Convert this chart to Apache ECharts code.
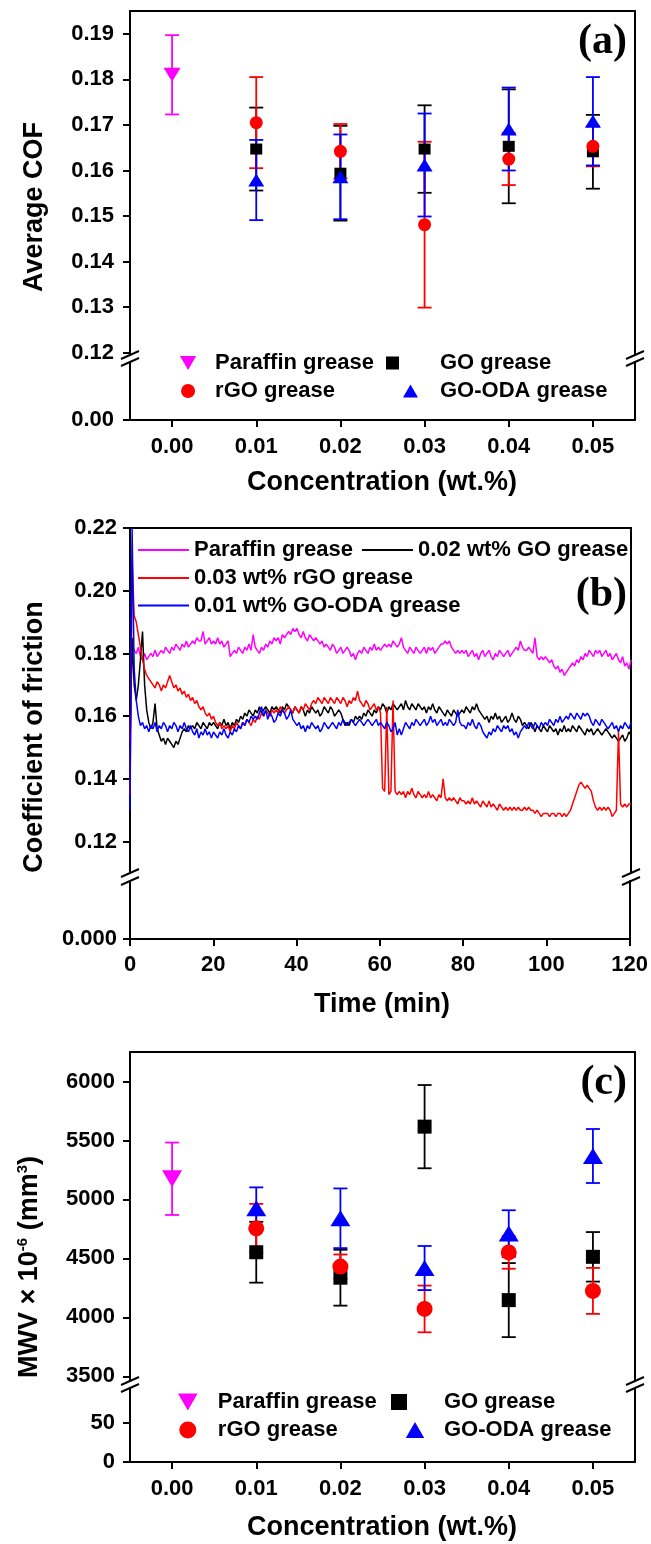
<!DOCTYPE html>
<html><head><meta charset="utf-8">
<script src="https://cdn.jsdelivr.net/npm/echarts@6/dist/echarts.min.js"></script>
<style>html,body{margin:0;padding:0;background:#fff}#chart{width:651px;height:1544px}</style>
</head><body><div id="chart"></div>
<script>
// ---------------- DATA ----------------
// Panel (a): average COF vs concentration
const concParaffin = [0.00];
const concGrease = [0.01, 0.02, 0.03, 0.04, 0.05];
const cofParaffin = [0.1810];
const cofParaffinErr = [0.0087];
const cofGO = [0.1647, 0.1594, 0.1647, 0.1653, 0.1641];
const cofGOErr = [0.0091, 0.0104, 0.0096, 0.0125, 0.0081];
const cofRGO = [0.1705, 0.1642, 0.1481, 0.1625, 0.1653];
const cofRGOErr = [0.0100, 0.0060, 0.0182, 0.0057, 0.0044];
const cofODA = [0.1579, 0.1586, 0.1612, 0.1691, 0.1708];
const cofODAErr = [0.0088, 0.0093, 0.0113, 0.0091, 0.0097];

// Panel (c): MWV x 10^-6 (mm^3) vs concentration
const mwvParaffin = [5175];
const mwvParaffinErr = [307];
const mwvGO = [4552, 4336, 5617, 4146, 4513];
const mwvGOErr = [258, 237, 353, 314, 210];
const mwvRGO = [4755, 4430, 4071, 4550, 4224];
const mwvRGOErr = [207, 103, 198, 138, 195];
const mwvODA = [4925, 4840, 4418, 4710, 5368];
const mwvODAErr = [177, 253, 187, 198, 229];

// Panel (b): coefficient of friction vs time, sampled every 0.5 min (0 ... 120)
const timeStep = 0.5;
const frictionParaffin = [
 .152,.183,.181,.180,.182,.179,.178,.180,.178,.179, // 0-4.5
 .180,.179,.181,.179,.180,.181,.180,.182,.181,.180, // 5
 .182,.181,.183,.182,.181,.183,.182,.184,.182,.183, // 10
 .184,.183,.185,.184,.184,.187,.183,.184,.185,.183, // 15
 .184,.183,.185,.183,.184,.182,.183,.184,.179,.180, // 20
 .181,.180,.182,.181,.180,.182,.181,.183,.181,.186, // 25
 .182,.181,.180,.182,.181,.183,.182,.184,.183,.185, // 30
 .184,.185,.183,.186,.185,.186,.187,.186,.188,.187, // 35
 .188,.186,.185,.187,.185,.184,.186,.185,.184,.185, // 40
 .184,.183,.184,.182,.183,.182,.181,.183,.182,.180, // 45
 .181,.182,.180,.181,.182,.181,.179,.180,.178,.180, // 50
 .181,.180,.182,.181,.180,.182,.181,.183,.181,.182, // 55
 .181,.182,.183,.182,.183,.182,.184,.183,.182,.183, // 60
 .185,.182,.181,.180,.182,.181,.180,.182,.181,.180, // 65
 .181,.182,.180,.182,.181,.182,.180,.181,.182,.183, // 70
 .183,.184,.183,.184,.182,.181,.180,.181,.180,.181, // 75
 .180,.181,.179,.180,.181,.179,.180,.178,.180,.181, // 80
 .179,.180,.181,.179,.178,.180,.179,.181,.180,.179, // 85
 .180,.181,.179,.180,.181,.182,.181,.184,.182,.181, // 90
 .181,.182,.181,.180,.185,.179,.178,.179,.178,.179, // 95
 .178,.177,.178,.176,.175,.176,.174,.175,.173,.174, // 100
 .175,.176,.177,.176,.178,.177,.179,.178,.180,.179, // 105
 .181,.180,.179,.181,.180,.181,.179,.180,.181,.179, // 110
 .180,.178,.179,.180,.178,.177,.179,.176,.177,.175, // 115
 .178];
const frictionGO = [
 .150,.185,.170,.165,.170,.178,.187,.170,.162,.158,
 .156,.158,.164,.156,.154,.152,.153,.151,.153,.152,
 .151,.150,.152,.151,.153,.155,.156,.155,.157,.156,
 .157,.156,.158,.157,.156,.158,.157,.156,.158,.157,
 .158,.157,.156,.158,.157,.159,.157,.158,.156,.158,
 .157,.159,.158,.160,.159,.161,.160,.162,.161,.160,
 .162,.161,.163,.161,.162,.163,.162,.161,.163,.162,
 .163,.162,.161,.163,.162,.164,.163,.162,.161,.163,
 .162,.161,.163,.162,.160,.162,.161,.163,.162,.161,
 .162,.160,.161,.163,.162,.161,.163,.162,.160,.161,
 .162,.161,.159,.157,.158,.157,.159,.158,.160,.159,
 .160,.159,.161,.160,.162,.161,.160,.162,.161,.163,
 .162,.164,.163,.161,.163,.162,.164,.163,.162,.163,
 .164,.162,.165,.163,.162,.164,.163,.162,.164,.163,
 .162,.163,.161,.163,.162,.164,.162,.161,.163,.162,
 .161,.160,.162,.161,.160,.162,.161,.160,.161,.162,
 .161,.163,.162,.161,.163,.162,.164,.162,.161,.160,
 .159,.160,.158,.160,.159,.161,.159,.160,.158,.159,
 .160,.158,.159,.161,.159,.158,.160,.159,.157,.158,
 .157,.156,.158,.157,.155,.157,.156,.155,.157,.156,
 .155,.157,.156,.155,.156,.154,.156,.155,.157,.155,
 .156,.155,.157,.156,.155,.157,.156,.155,.154,.156,
 .155,.156,.154,.155,.156,.155,.154,.155,.156,.155,
 .154,.153,.154,.153,.152,.153,.154,.152,.153,.155,
 .154];
const frictionRGO = [
 .135,.210,.192,.190,.186,.182,.178,.175,.173,.172,
 .171,.170,.169,.171,.170,.168,.170,.169,.171,.173,
 .171,.169,.170,.168,.169,.167,.168,.166,.167,.165,
 .166,.164,.165,.163,.162,.163,.161,.160,.161,.159,
 .160,.158,.157,.158,.156,.157,.156,.157,.155,.157,
 .156,.158,.157,.156,.158,.157,.159,.158,.157,.159,
 .158,.160,.159,.161,.160,.162,.161,.160,.162,.161,
 .162,.161,.163,.162,.161,.162,.163,.162,.161,.163,
 .162,.161,.163,.162,.164,.163,.162,.164,.165,.164,
 .166,.165,.164,.166,.165,.164,.166,.165,.164,.166,
 .165,.164,.166,.165,.163,.165,.164,.166,.165,.168,
 .165,.164,.163,.165,.164,.162,.163,.164,.162,.163,
 .161,.137,.136,.163,.135,.136,.165,.136,.135,.136,
 .135,.136,.134,.136,.135,.137,.135,.134,.136,.135,
 .134,.135,.134,.136,.134,.135,.134,.133,.135,.134,
 .140,.134,.133,.134,.133,.134,.133,.132,.134,.133,
 .133,.132,.133,.132,.134,.132,.133,.132,.131,.133,
 .132,.131,.133,.131,.132,.131,.130,.132,.131,.130,
 .131,.130,.131,.130,.131,.130,.131,.130,.130,.131,
 .130,.131,.130,.130,.129,.130,.129,.128,.129,.129,
 .129,.128,.129,.129,.128,.129,.129,.128,.129,.128,
 .129,.130,.132,.134,.136,.138,.139,.138,.137,.138,
 .137,.136,.133,.131,.130,.131,.130,.131,.130,.131,
 .130,.128,.129,.130,.155,.132,.131,.132,.131,.132,
 .132];
const frictionODA = [
 .130,.220,.175,.165,.160,.157,.158,.156,.157,.155,
 .157,.156,.158,.155,.157,.156,.158,.157,.155,.157,
 .156,.158,.157,.155,.157,.156,.158,.156,.155,.157,
 .155,.154,.156,.153,.155,.154,.156,.154,.155,.153,
 .155,.154,.153,.155,.154,.156,.154,.153,.155,.154,
 .156,.155,.157,.156,.158,.157,.159,.158,.160,.159,
 .160,.159,.161,.163,.160,.162,.159,.161,.160,.158,
 .159,.161,.160,.162,.161,.159,.160,.162,.159,.158,
 .157,.158,.156,.157,.155,.157,.156,.158,.157,.156,
 .157,.155,.156,.158,.157,.156,.157,.158,.157,.156,
 .158,.157,.159,.158,.157,.158,.159,.158,.157,.158,
 .159,.158,.157,.158,.159,.158,.157,.158,.159,.157,
 .158,.157,.156,.158,.157,.155,.156,.158,.154,.156,
 .154,.156,.158,.157,.156,.158,.157,.159,.158,.157,
 .158,.159,.157,.158,.160,.158,.159,.157,.158,.159,
 .157,.158,.157,.159,.158,.157,.158,.162,.158,.157,
 .157,.156,.158,.157,.159,.157,.156,.158,.157,.155,
 .154,.153,.155,.154,.156,.155,.157,.156,.155,.157,
 .156,.157,.155,.156,.154,.155,.153,.155,.156,.157,
 .156,.158,.157,.156,.158,.157,.156,.158,.157,.158,
 .157,.159,.158,.157,.159,.158,.160,.158,.159,.160,
 .159,.161,.160,.159,.161,.160,.159,.161,.160,.161,
 .160,.158,.157,.159,.158,.157,.159,.158,.157,.156,
 .157,.158,.156,.157,.155,.157,.156,.158,.157,.156,
 .158];

// Tick labels
const concTicks = [0, 0.01, 0.02, 0.03, 0.04, 0.05];
const cofTicks = [0.12, 0.13, 0.14, 0.15, 0.16, 0.17, 0.18, 0.19];
const cofLowTicks = [0];
const timeTicks = [0, 20, 40, 60, 80, 100, 120];
const frictionTicks = [0.12, 0.14, 0.16, 0.18, 0.20, 0.22];
const frictionLowTicks = [0];
const mwvTicks = [3500, 4000, 4500, 5000, 5500, 6000];
const mwvLowTicks = [0, 50];

// ---------------- LAYOUT / STYLE ----------------
const FONT = 'Liberation Sans, Arial, sans-serif';
const C_MAG = '#FF00FF', C_BLK = '#000000', C_RED = '#FF0000', C_BLU = '#0000FF';
const DOWN_TRI = 'path://M0,0L10,0L5,8.66Z';
const UP_TRI = 'path://M5,0L10,8.66L0,8.66Z';
const AX = {color: '#000', width: 2};
const labelFont = {fontFamily: FONT, fontWeight: 'bold', fontSize: 22, color: '#000'};

// grids: [left, top, width, height]
const G = [
  [130, 11, 505, 344],   // a upper
  [130, 362, 505, 58],   // a lower
  [130, 528, 501, 345],  // b upper
  [130, 881, 501, 58],   // b lower
  [130, 1052, 505, 329], // c upper
  [130, 1388, 505, 74]   // c lower
];

function hiddenX(gi, min, max) {
  return {type: 'value', gridIndex: gi, min, max, show: false};
}
function frameX(gi, min, max) {
  return {type: 'value', gridIndex: gi, min, max, position: 'top',
    axisLine: {show: true, onZero: false, lineStyle: AX}, axisTick: {show: false},
    axisLabel: {show: false}, splitLine: {show: false}};
}
function mainX(gi, min, max, ticks, fmt, margin) {
  return {type: 'value', gridIndex: gi, min, max, position: 'bottom',
    axisLine: {show: true, onZero: false, lineStyle: AX},
    axisTick: {show: true, length: 7, lineStyle: AX, customValues: ticks},
    axisLabel: Object.assign({margin, customValues: ticks, formatter: fmt}, labelFont),
    splitLine: {show: false}};
}
function mainY(gi, min, max, ticks, fmt, margin) {
  return {type: 'value', gridIndex: gi, min, max, position: 'left',
    axisLine: {show: true, onZero: false, lineStyle: AX},
    axisTick: {show: true, length: 7, lineStyle: AX, customValues: ticks},
    axisLabel: Object.assign({margin, customValues: ticks, formatter: fmt}, labelFont),
    splitLine: {show: false}};
}
function frameY(gi, min, max) {
  return {type: 'value', gridIndex: gi, min, max, position: 'right',
    axisLine: {show: true, onZero: false, lineStyle: AX}, axisTick: {show: false},
    axisLabel: {show: false}, splitLine: {show: false}};
}

const f2 = v => Number(v).toFixed(2);
const f3 = v => Number(v).toFixed(3);
const f0 = v => String(Math.round(v));

const xAxes = [
  hiddenX(0, -0.005, 0.055), frameX(0, -0.005, 0.055), mainX(1, -0.005, 0.055, concTicks, f2, 16),
  hiddenX(2, 0, 120), frameX(2, 0, 120), mainX(3, 0, 120, timeTicks, f0, 15),
  hiddenX(4, -0.005, 0.055), frameX(4, -0.005, 0.055), mainX(5, -0.005, 0.055, concTicks, f2, 16)
];
const yAxes = [
  mainY(0, 0.1195, 0.195, cofTicks, f2, 16), frameY(0, 0.1195, 0.195),
  mainY(1, 0, 0.012, cofLowTicks, f2, 16), frameY(1, 0, 0.012),
  mainY(2, 0.11, 0.22, frictionTicks, f2, 13), frameY(2, 0.11, 0.22),
  mainY(3, 0, 0.018, frictionLowTicks, f3, 13), frameY(3, 0, 0.018),
  mainY(4, 3460, 6250, mwvTicks, f0, 15), frameY(4, 3460, 6250),
  mainY(5, 0, 95, mwvLowTicks, f0, 15), frameY(5, 0, 95)
];

function errSeries(name, xs, means, errs, color, xi, yi) {
  return {
    type: 'custom', name, xAxisIndex: xi, yAxisIndex: yi, z: 2, silent: true,
    data: xs.map((x, i) => [x, means[i] - errs[i], means[i] + errs[i]]),
    encode: {x: 0, y: [1, 2]},
    renderItem: function (params, api) {
      const x = api.value(0), lo = api.value(1), hi = api.value(2);
      const t = api.coord([x, hi]), b = api.coord([x, lo]);
      const st = {stroke: color, lineWidth: 1.8};
      const h = 7;
      return {type: 'group', children: [
        {type: 'line', shape: {x1: t[0], y1: t[1], x2: b[0], y2: b[1]}, style: st},
        {type: 'line', shape: {x1: t[0] - h, y1: t[1], x2: t[0] + h, y2: t[1]}, style: st},
        {type: 'line', shape: {x1: b[0] - h, y1: b[1], x2: b[0] + h, y2: b[1]}, style: st}
      ]};
    }
  };
}
function dotSeries(name, xs, means, symbol, size, color, xi, yi) {
  return {
    type: 'scatter', name, xAxisIndex: xi, yAxisIndex: yi, z: 3,
    symbol, symbolSize: size, itemStyle: {color, opacity: 1},
    data: xs.map((x, i) => [x, means[i]])
  };
}
function lineSeries(name, vals, color) {
  return {
    type: 'line', name, xAxisIndex: 3, yAxisIndex: 4, showSymbol: false, symbol: 'none',
    lineStyle: {color, width: 1.5}, itemStyle: {color}, clip: true, animation: false,
    data: vals.map((v, i) => [i * timeStep, v])
  };
}

const series = [
  // (a)
  errSeries('a-err-paraffin', concParaffin, cofParaffin, cofParaffinErr, C_MAG, 0, 0),
  errSeries('a-err-go', concGrease, cofGO, cofGOErr, C_BLK, 0, 0),
  errSeries('a-err-rgo', concGrease, cofRGO, cofRGOErr, C_RED, 0, 0),
  errSeries('a-err-oda', concGrease, cofODA, cofODAErr, C_BLU, 0, 0),
  dotSeries('Paraffin grease', concParaffin, cofParaffin, DOWN_TRI, [17, 14], C_MAG, 0, 0),
  dotSeries('GO grease', concGrease, cofGO, 'rect', [12, 11], C_BLK, 0, 0),
  dotSeries('rGO grease', concGrease, cofRGO, 'circle', [13, 13], C_RED, 0, 0),
  dotSeries('GO-ODA grease', concGrease, cofODA, UP_TRI, [16, 13], C_BLU, 0, 0),
  // (b)
  lineSeries('Paraffin grease ', frictionParaffin, C_MAG),
  lineSeries('0.02 wt% GO grease', frictionGO, C_BLK),
  lineSeries('0.03 wt% rGO grease', frictionRGO, C_RED),
  lineSeries('0.01 wt% GO-ODA grease', frictionODA, C_BLU),
  // (c)
  errSeries('c-err-paraffin', concParaffin, mwvParaffin, mwvParaffinErr, C_MAG, 6, 8),
  errSeries('c-err-go', concGrease, mwvGO, mwvGOErr, C_BLK, 6, 8),
  errSeries('c-err-rgo', concGrease, mwvRGO, mwvRGOErr, C_RED, 6, 8),
  errSeries('c-err-oda', concGrease, mwvODA, mwvODAErr, C_BLU, 6, 8),
  dotSeries('Paraffin grease', concParaffin, mwvParaffin, DOWN_TRI, [20, 17], C_MAG, 6, 8),
  dotSeries('GO grease', concGrease, mwvGO, 'rect', [14, 14], C_BLK, 6, 8),
  dotSeries('rGO grease', concGrease, mwvRGO, 'circle', [16, 16], C_RED, 6, 8),
  dotSeries('GO-ODA grease', concGrease, mwvODA, UP_TRI, [20, 16], C_BLU, 6, 8)
];

const legendText = {fontFamily: FONT, fontWeight: 'bold', fontSize: 22, color: '#000'};
function legend(cfg) {
  return Object.assign({padding: 0, selectedMode: false, textStyle: legendText, inactiveColor: '#000'}, cfg);
}
const legends = [
  legend({orient: 'vertical', left: 180, top: 352, itemWidth: 44, itemHeight: 14, itemGap: 6,
    data: [{name: 'Paraffin grease', icon: DOWN_TRI}, {name: 'rGO grease', icon: 'circle'}]}),
  legend({orient: 'vertical', left: 386, top: 352, itemWidth: 49, itemHeight: 13, itemGap: 6,
    data: [{name: 'GO grease', icon: 'square'}, {name: 'GO-ODA grease', icon: UP_TRI}]}),
  legend({orient: 'horizontal', left: 138, top: 539, itemWidth: 51, itemHeight: 2, itemGap: 9, icon: 'rect',
    formatter: n => n.trim(), data: ['Paraffin grease ', '0.02 wt% GO grease']}),
  legend({orient: 'vertical', left: 138, top: 567, itemWidth: 51, itemHeight: 2, itemGap: 5.5, icon: 'rect',
    data: ['0.03 wt% rGO grease', '0.01 wt% GO-ODA grease']}),
  legend({orient: 'vertical', left: 178, top: 1391, itemWidth: 50, itemHeight: 17, itemGap: 6,
    data: [{name: 'Paraffin grease', icon: DOWN_TRI}, {name: 'rGO grease', icon: 'circle'}]}),
  legend({orient: 'vertical', left: 391, top: 1391, itemWidth: 48, itemHeight: 16, itemGap: 6,
    data: [{name: 'GO grease', icon: 'square'}, {name: 'GO-ODA grease', icon: UP_TRI}]})
];

// break marks computed from grid geometry
const graphics = [];
function slash(x, y) {
  graphics.push({type: 'line', shape: {x1: x - 9, y1: y + 4, x2: x + 9, y2: y - 4},
    style: {stroke: '#000', lineWidth: 2}, z: 10});
}
function breakMarks(upper, lower) {
  const ub = upper[1] + upper[3], lt = lower[1];
  [upper[0], upper[0] + upper[2]].forEach(x => { slash(x, ub); slash(x, lt); });
}
breakMarks(G[0], G[1]); breakMarks(G[2], G[3]); breakMarks(G[4], G[5]);

function txt(text, x, y, size, opts) {
  graphics.push(Object.assign({type: 'text', x, y, z: 10, style: Object.assign({
    text, fontFamily: FONT, fontWeight: 'bold', fontSize: size, fill: '#000',
    align: 'center', verticalAlign: 'middle', textAlign: 'center', textVerticalAlign: 'middle'
  }, (opts && opts.style) || {})}, (opts && opts.el) || {}));
}
const panelFont = {fontFamily: 'Liberation Serif, Times New Roman, serif', align: 'right', textAlign: 'right'};
txt('(a)', 627, 42, 42, {style: panelFont});
txt('(b)', 627, 595, 42, {style: panelFont});
txt('(c)', 627, 1083, 42, {style: panelFont});
txt('Concentration (wt.%)', 382, 483, 27);
txt('Time (min)', 382, 1005, 27);
txt('Concentration (wt.%)', 382, 1528, 27);
txt('Average COF', 35, 207, 27, {el: {rotation: Math.PI / 2}});
txt('Coefficient of friction', 35, 737, 27, {el: {rotation: Math.PI / 2}});
txt('{n|MWV × 10}{s|-6}{n| (mm}{s|3}{n|)}', 30, 1267, 27, {el: {rotation: Math.PI / 2}, style: {
  rich: {
    n: {fontFamily: FONT, fontWeight: 'bold', fontSize: 27, lineHeight: 30},
    s: {fontFamily: FONT, fontWeight: 'bold', fontSize: 15, verticalAlign: 'top', lineHeight: 15}
  }
}});

const chart = echarts.init(document.getElementById('chart'), null, {renderer: 'canvas'});
chart.setOption({
  animation: false,
  backgroundColor: '#fff',
  grid: G.map(g => ({left: g[0], top: g[1], width: g[2], height: g[3], containLabel: false})),
  xAxis: xAxes,
  yAxis: yAxes,
  legend: legends,
  series,
  graphic: {elements: graphics}
});
</script></body></html>
